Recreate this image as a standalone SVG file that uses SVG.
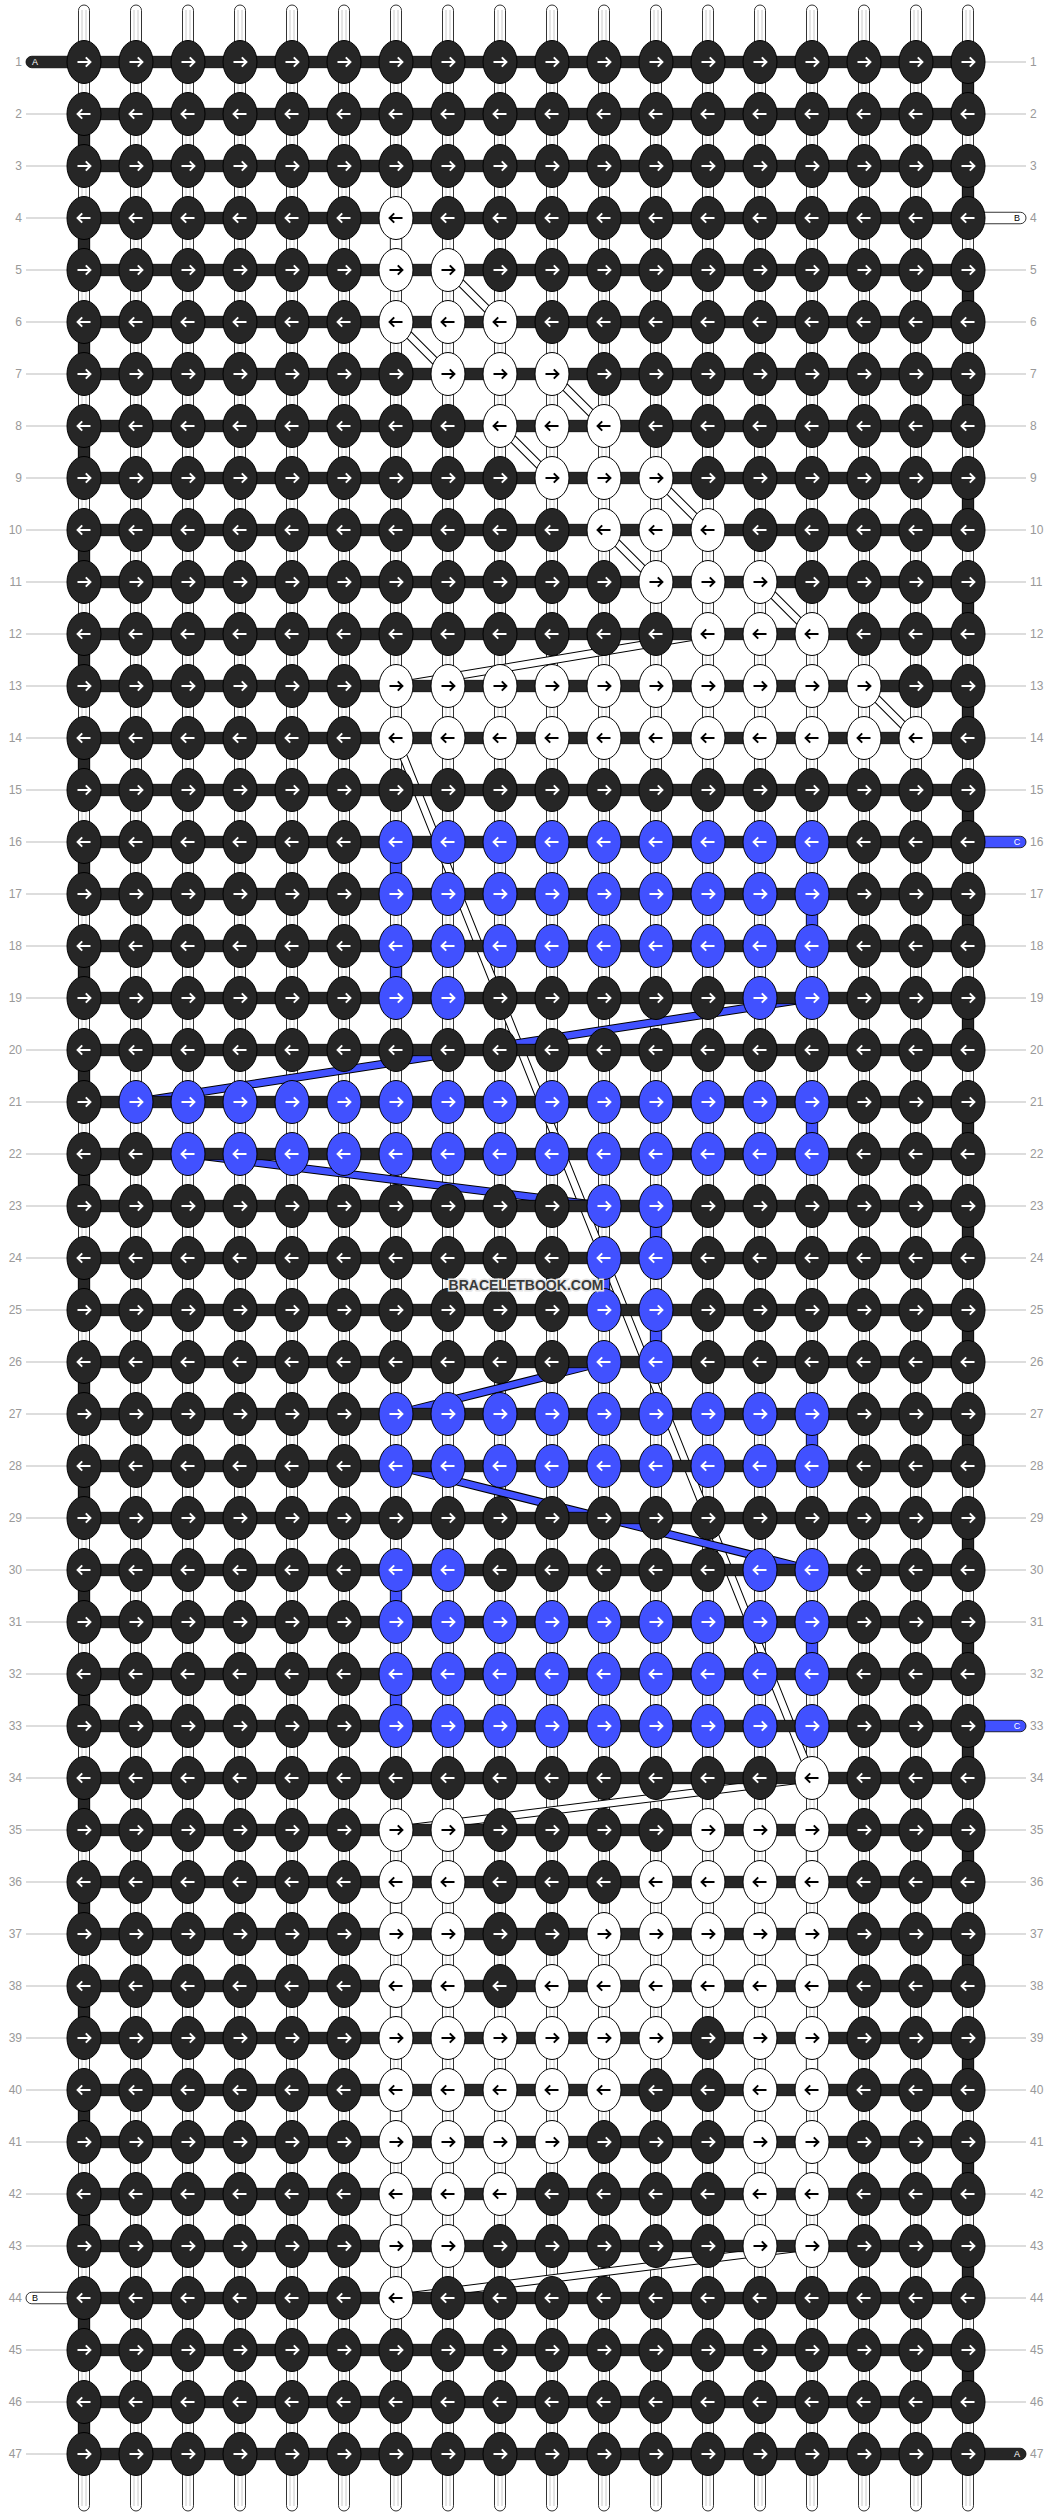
<svg xmlns="http://www.w3.org/2000/svg" xmlns:xlink="http://www.w3.org/1999/xlink" width="1052" height="2516" viewBox="0 0 1052 2516">
<style>
.ln{font-family:"Liberation Sans",Arial,sans-serif;font-size:12px;fill:#999;text-anchor:end}
.rn{font-family:"Liberation Sans",Arial,sans-serif;font-size:12px;fill:#999;text-anchor:start}
.gl{stroke:#bbb;stroke-width:1}
.bar{fill:#262626;stroke:#000;stroke-width:0.8}
.wh{fill:#fff;stroke:#000;stroke-width:0.8}
.bl{fill:#4151ff;stroke:#000;stroke-width:0.8}
.pt{font-family:"Liberation Sans",Arial,sans-serif;font-size:9px;text-anchor:middle}
.bo{stroke:#000;stroke-width:8.5;fill:none}
.bw{stroke:#fff;stroke-width:6.5;fill:none}
.bb{stroke:#4151ff;stroke-width:6.5;fill:none}
.wm{font-family:"Liberation Sans",Arial,sans-serif;font-weight:bold;font-size:15px;fill:#3a3a3a;stroke:#e6e6e6;stroke-width:3;paint-order:stroke}
</style>
<defs>
<g id="str"><rect x="-5.5" y="5" width="11" height="2506" rx="5.5" fill="#fff" stroke="#000" stroke-width="0.8"/><path d="M-2,10V2506M2,10V2506" stroke="#bdbdbd" stroke-width="0.8"/></g>
<rect id="bar" class="bar" x="84" y="-5.75" width="884" height="11.5"/>
<rect id="vd" class="bar" x="-5.75" y="0" width="11.5" height="52"/>
<rect id="vw" class="wh" x="-5.75" y="0" width="11.5" height="52"/>
<rect id="vb" class="bl" x="-5.75" y="0" width="11.5" height="52"/>
<path id="ar" d="M-6.5,0H6M1.8,-4.6L6.4,0L1.8,4.6" fill="none" stroke-width="2"/>
<path id="al" d="M6.5,0H-6M-1.8,-4.6L-6.4,0L-1.8,4.6" fill="none" stroke-width="2"/>
<g id="dR"><ellipse rx="17" ry="21.5" fill="#262626" stroke="#000"/><use href="#ar" stroke="#fff"/></g>
<g id="dL"><ellipse rx="17" ry="21.5" fill="#262626" stroke="#000"/><use href="#al" stroke="#fff"/></g>
<g id="wR"><ellipse rx="17" ry="21.5" fill="#fff" stroke="#000"/><use href="#ar" stroke="#000"/></g>
<g id="wL"><ellipse rx="17" ry="21.5" fill="#fff" stroke="#000"/><use href="#al" stroke="#000"/></g>
<g id="bR"><ellipse rx="17" ry="21.5" fill="#4151ff" stroke="#000"/><use href="#ar" stroke="#fff"/></g>
<g id="bL"><ellipse rx="17" ry="21.5" fill="#4151ff" stroke="#000"/><use href="#al" stroke="#fff"/></g>
</defs>
<rect width="1052" height="2516" fill="#fff"/>
<g id="labels">
<path class="gl" d="M26,114H67M26,166H67M26,218H67M26,270H67M26,322H67M26,374H67M26,426H67M26,478H67M26,530H67M26,582H67M26,634H67M26,686H67M26,738H67M26,790H67M26,842H67M26,894H67M26,946H67M26,998H67M26,1050H67M26,1102H67M26,1154H67M26,1206H67M26,1258H67M26,1310H67M26,1362H67M26,1414H67M26,1466H67M26,1518H67M26,1570H67M26,1622H67M26,1674H67M26,1726H67M26,1778H67M26,1830H67M26,1882H67M26,1934H67M26,1986H67M26,2038H67M26,2090H67M26,2142H67M26,2194H67M26,2246H67M26,2350H67M26,2402H67M26,2454H67"/>
<path class="gl" d="M985,62H1026M985,114H1026M985,166H1026M985,270H1026M985,322H1026M985,374H1026M985,426H1026M985,478H1026M985,530H1026M985,582H1026M985,634H1026M985,686H1026M985,738H1026M985,790H1026M985,894H1026M985,946H1026M985,998H1026M985,1050H1026M985,1102H1026M985,1154H1026M985,1206H1026M985,1258H1026M985,1310H1026M985,1362H1026M985,1414H1026M985,1466H1026M985,1518H1026M985,1570H1026M985,1622H1026M985,1674H1026M985,1778H1026M985,1830H1026M985,1882H1026M985,1934H1026M985,1986H1026M985,2038H1026M985,2090H1026M985,2142H1026M985,2194H1026M985,2246H1026M985,2298H1026M985,2350H1026M985,2402H1026"/>
<text class="ln" x="22" y="66">1</text><text class="ln" x="22" y="118">2</text><text class="ln" x="22" y="170">3</text><text class="ln" x="22" y="222">4</text><text class="ln" x="22" y="274">5</text><text class="ln" x="22" y="326">6</text><text class="ln" x="22" y="378">7</text><text class="ln" x="22" y="430">8</text><text class="ln" x="22" y="482">9</text><text class="ln" x="22" y="534">10</text><text class="ln" x="22" y="586">11</text><text class="ln" x="22" y="638">12</text><text class="ln" x="22" y="690">13</text><text class="ln" x="22" y="742">14</text><text class="ln" x="22" y="794">15</text><text class="ln" x="22" y="846">16</text><text class="ln" x="22" y="898">17</text><text class="ln" x="22" y="950">18</text><text class="ln" x="22" y="1002">19</text><text class="ln" x="22" y="1054">20</text><text class="ln" x="22" y="1106">21</text><text class="ln" x="22" y="1158">22</text><text class="ln" x="22" y="1210">23</text><text class="ln" x="22" y="1262">24</text><text class="ln" x="22" y="1314">25</text><text class="ln" x="22" y="1366">26</text><text class="ln" x="22" y="1418">27</text><text class="ln" x="22" y="1470">28</text><text class="ln" x="22" y="1522">29</text><text class="ln" x="22" y="1574">30</text><text class="ln" x="22" y="1626">31</text><text class="ln" x="22" y="1678">32</text><text class="ln" x="22" y="1730">33</text><text class="ln" x="22" y="1782">34</text><text class="ln" x="22" y="1834">35</text><text class="ln" x="22" y="1886">36</text><text class="ln" x="22" y="1938">37</text><text class="ln" x="22" y="1990">38</text><text class="ln" x="22" y="2042">39</text><text class="ln" x="22" y="2094">40</text><text class="ln" x="22" y="2146">41</text><text class="ln" x="22" y="2198">42</text><text class="ln" x="22" y="2250">43</text><text class="ln" x="22" y="2302">44</text><text class="ln" x="22" y="2354">45</text><text class="ln" x="22" y="2406">46</text><text class="ln" x="22" y="2458">47</text>
<text class="rn" x="1030" y="66">1</text><text class="rn" x="1030" y="118">2</text><text class="rn" x="1030" y="170">3</text><text class="rn" x="1030" y="222">4</text><text class="rn" x="1030" y="274">5</text><text class="rn" x="1030" y="326">6</text><text class="rn" x="1030" y="378">7</text><text class="rn" x="1030" y="430">8</text><text class="rn" x="1030" y="482">9</text><text class="rn" x="1030" y="534">10</text><text class="rn" x="1030" y="586">11</text><text class="rn" x="1030" y="638">12</text><text class="rn" x="1030" y="690">13</text><text class="rn" x="1030" y="742">14</text><text class="rn" x="1030" y="794">15</text><text class="rn" x="1030" y="846">16</text><text class="rn" x="1030" y="898">17</text><text class="rn" x="1030" y="950">18</text><text class="rn" x="1030" y="1002">19</text><text class="rn" x="1030" y="1054">20</text><text class="rn" x="1030" y="1106">21</text><text class="rn" x="1030" y="1158">22</text><text class="rn" x="1030" y="1210">23</text><text class="rn" x="1030" y="1262">24</text><text class="rn" x="1030" y="1314">25</text><text class="rn" x="1030" y="1366">26</text><text class="rn" x="1030" y="1418">27</text><text class="rn" x="1030" y="1470">28</text><text class="rn" x="1030" y="1522">29</text><text class="rn" x="1030" y="1574">30</text><text class="rn" x="1030" y="1626">31</text><text class="rn" x="1030" y="1678">32</text><text class="rn" x="1030" y="1730">33</text><text class="rn" x="1030" y="1782">34</text><text class="rn" x="1030" y="1834">35</text><text class="rn" x="1030" y="1886">36</text><text class="rn" x="1030" y="1938">37</text><text class="rn" x="1030" y="1990">38</text><text class="rn" x="1030" y="2042">39</text><text class="rn" x="1030" y="2094">40</text><text class="rn" x="1030" y="2146">41</text><text class="rn" x="1030" y="2198">42</text><text class="rn" x="1030" y="2250">43</text><text class="rn" x="1030" y="2302">44</text><text class="rn" x="1030" y="2354">45</text><text class="rn" x="1030" y="2406">46</text><text class="rn" x="1030" y="2458">47</text>
</g>
<g id="strings">
<use href="#str" x="84"/><use href="#str" x="136"/><use href="#str" x="188"/><use href="#str" x="240"/><use href="#str" x="292"/><use href="#str" x="344"/><use href="#str" x="396"/><use href="#str" x="448"/><use href="#str" x="500"/><use href="#str" x="552"/><use href="#str" x="604"/><use href="#str" x="656"/><use href="#str" x="708"/><use href="#str" x="760"/><use href="#str" x="812"/><use href="#str" x="864"/><use href="#str" x="916"/><use href="#str" x="968"/>
</g>
<g id="connectors">
<g id="bands-white">
<path class="bo" d="M448,270L500,322M396,322L448,374M552,374L604,426M500,426L552,478M656,478L708,530M604,530L656,582M760,582L812,634M708,634L396,686M864,686L916,738M396,738L812,1778M812,1778L396,1830M812,2246L396,2298"/>
<path class="bw" d="M448,270L500,322M396,322L448,374M552,374L604,426M500,426L552,478M656,478L708,530M604,530L656,582M760,582L812,634M708,634L396,686M864,686L916,738M396,738L812,1778M812,1778L396,1830M812,2246L396,2298"/>
</g>
<g id="bands-blue">
<path class="bo" d="M812,998L136,1102M188,1154L604,1206M604,1362L396,1414M396,1466L812,1570"/>
<path class="bb" d="M812,998L136,1102M188,1154L604,1206M604,1362L396,1414M396,1466L812,1570"/>
</g>
<g id="bars">
<use href="#bar" y="62"/><use href="#bar" y="114"/><use href="#bar" y="166"/><use href="#bar" y="218"/><use href="#bar" y="270"/><use href="#bar" y="322"/><use href="#bar" y="374"/><use href="#bar" y="426"/><use href="#bar" y="478"/><use href="#bar" y="530"/><use href="#bar" y="582"/><use href="#bar" y="634"/><use href="#bar" y="686"/><use href="#bar" y="738"/><use href="#bar" y="790"/><use href="#bar" y="842"/><use href="#bar" y="894"/><use href="#bar" y="946"/><use href="#bar" y="998"/><use href="#bar" y="1050"/><use href="#bar" y="1102"/><use href="#bar" y="1154"/><use href="#bar" y="1206"/><use href="#bar" y="1258"/><use href="#bar" y="1310"/><use href="#bar" y="1362"/><use href="#bar" y="1414"/><use href="#bar" y="1466"/><use href="#bar" y="1518"/><use href="#bar" y="1570"/><use href="#bar" y="1622"/><use href="#bar" y="1674"/><use href="#bar" y="1726"/><use href="#bar" y="1778"/><use href="#bar" y="1830"/><use href="#bar" y="1882"/><use href="#bar" y="1934"/><use href="#bar" y="1986"/><use href="#bar" y="2038"/><use href="#bar" y="2090"/><use href="#bar" y="2142"/><use href="#bar" y="2194"/><use href="#bar" y="2246"/><use href="#bar" y="2298"/><use href="#bar" y="2350"/><use href="#bar" y="2402"/><use href="#bar" y="2454"/>
</g>
<g id="turns-dark">
<use href="#vd" x="968" y="62"/><use href="#vd" x="968" y="166"/><use href="#vd" x="968" y="270"/><use href="#vd" x="968" y="374"/><use href="#vd" x="968" y="478"/><use href="#vd" x="968" y="582"/><use href="#vd" x="968" y="686"/><use href="#vd" x="968" y="790"/><use href="#vd" x="968" y="894"/><use href="#vd" x="968" y="998"/><use href="#vd" x="968" y="1102"/><use href="#vd" x="968" y="1206"/><use href="#vd" x="968" y="1310"/><use href="#vd" x="968" y="1414"/><use href="#vd" x="968" y="1518"/><use href="#vd" x="968" y="1622"/><use href="#vd" x="968" y="1726"/><use href="#vd" x="968" y="1830"/><use href="#vd" x="968" y="1934"/><use href="#vd" x="968" y="2038"/><use href="#vd" x="968" y="2142"/><use href="#vd" x="968" y="2246"/><use href="#vd" x="968" y="2350"/>
<use href="#vd" x="84" y="114"/><use href="#vd" x="84" y="218"/><use href="#vd" x="84" y="322"/><use href="#vd" x="84" y="426"/><use href="#vd" x="84" y="530"/><use href="#vd" x="84" y="634"/><use href="#vd" x="84" y="738"/><use href="#vd" x="84" y="842"/><use href="#vd" x="84" y="946"/><use href="#vd" x="84" y="1050"/><use href="#vd" x="84" y="1154"/><use href="#vd" x="84" y="1258"/><use href="#vd" x="84" y="1362"/><use href="#vd" x="84" y="1466"/><use href="#vd" x="84" y="1570"/><use href="#vd" x="84" y="1674"/><use href="#vd" x="84" y="1778"/><use href="#vd" x="84" y="1882"/><use href="#vd" x="84" y="1986"/><use href="#vd" x="84" y="2090"/><use href="#vd" x="84" y="2194"/><use href="#vd" x="84" y="2298"/><use href="#vd" x="84" y="2402"/>
</g>
<g id="turns-blue">
<use href="#vb" x="396" y="842"/><use href="#vb" x="812" y="894"/><use href="#vb" x="396" y="946"/><use href="#vb" x="812" y="1102"/><use href="#vb" x="656" y="1206"/><use href="#vb" x="604" y="1258"/><use href="#vb" x="656" y="1310"/><use href="#vb" x="812" y="1414"/><use href="#vb" x="396" y="1570"/><use href="#vb" x="812" y="1622"/><use href="#vb" x="396" y="1674"/>
</g>
<g id="turns-white">
<use href="#vw" x="396" y="218"/><use href="#vw" x="812" y="1830"/><use href="#vw" x="396" y="1882"/><use href="#vw" x="812" y="1934"/><use href="#vw" x="396" y="1986"/><use href="#vw" x="812" y="2038"/><use href="#vw" x="396" y="2090"/><use href="#vw" x="812" y="2142"/><use href="#vw" x="396" y="2194"/>
</g>
<g id="ends">
<rect class="bar" x="26" y="56.25" width="62" height="11.5" rx="5.75"/><text class="pt" x="35" y="65.2" fill="#fff">A</text>
<rect class="wh" x="964" y="212.25" width="62" height="11.5" rx="5.75"/><text class="pt" x="1017" y="221.2" fill="#000">B</text>
<rect class="bl" x="964" y="836.25" width="62" height="11.5" rx="5.75"/><text class="pt" x="1017" y="845.2" fill="#fff">C</text>
<rect class="bl" x="964" y="1720.25" width="62" height="11.5" rx="5.75"/><text class="pt" x="1017" y="1729.2" fill="#fff">C</text>
<rect class="wh" x="26" y="2292.25" width="62" height="11.5" rx="5.75"/><text class="pt" x="35" y="2301.2" fill="#000">B</text>
<rect class="bar" x="964" y="2448.25" width="62" height="11.5" rx="5.75"/><text class="pt" x="1017" y="2457.2" fill="#fff">A</text>
</g>
</g>
<g id="knots">
<g transform="translate(0,62)"><g id="n1-1"><use href="#dR" x="84"/></g><g id="n1-2"><use href="#dR" x="136"/></g><g id="n1-3"><use href="#dR" x="188"/></g><g id="n1-4"><use href="#dR" x="240"/></g><g id="n1-5"><use href="#dR" x="292"/></g><g id="n1-6"><use href="#dR" x="344"/></g><g id="n1-7"><use href="#dR" x="396"/></g><g id="n1-8"><use href="#dR" x="448"/></g><g id="n1-9"><use href="#dR" x="500"/></g><g id="n1-10"><use href="#dR" x="552"/></g><g id="n1-11"><use href="#dR" x="604"/></g><g id="n1-12"><use href="#dR" x="656"/></g><g id="n1-13"><use href="#dR" x="708"/></g><g id="n1-14"><use href="#dR" x="760"/></g><g id="n1-15"><use href="#dR" x="812"/></g><g id="n1-16"><use href="#dR" x="864"/></g><g id="n1-17"><use href="#dR" x="916"/></g><g id="n1-18"><use href="#dR" x="968"/></g></g>
<g transform="translate(0,114)"><g id="n2-1"><use href="#dL" x="84"/></g><g id="n2-2"><use href="#dL" x="136"/></g><g id="n2-3"><use href="#dL" x="188"/></g><g id="n2-4"><use href="#dL" x="240"/></g><g id="n2-5"><use href="#dL" x="292"/></g><g id="n2-6"><use href="#dL" x="344"/></g><g id="n2-7"><use href="#dL" x="396"/></g><g id="n2-8"><use href="#dL" x="448"/></g><g id="n2-9"><use href="#dL" x="500"/></g><g id="n2-10"><use href="#dL" x="552"/></g><g id="n2-11"><use href="#dL" x="604"/></g><g id="n2-12"><use href="#dL" x="656"/></g><g id="n2-13"><use href="#dL" x="708"/></g><g id="n2-14"><use href="#dL" x="760"/></g><g id="n2-15"><use href="#dL" x="812"/></g><g id="n2-16"><use href="#dL" x="864"/></g><g id="n2-17"><use href="#dL" x="916"/></g><g id="n2-18"><use href="#dL" x="968"/></g></g>
<g transform="translate(0,166)"><g id="n3-1"><use href="#dR" x="84"/></g><g id="n3-2"><use href="#dR" x="136"/></g><g id="n3-3"><use href="#dR" x="188"/></g><g id="n3-4"><use href="#dR" x="240"/></g><g id="n3-5"><use href="#dR" x="292"/></g><g id="n3-6"><use href="#dR" x="344"/></g><g id="n3-7"><use href="#dR" x="396"/></g><g id="n3-8"><use href="#dR" x="448"/></g><g id="n3-9"><use href="#dR" x="500"/></g><g id="n3-10"><use href="#dR" x="552"/></g><g id="n3-11"><use href="#dR" x="604"/></g><g id="n3-12"><use href="#dR" x="656"/></g><g id="n3-13"><use href="#dR" x="708"/></g><g id="n3-14"><use href="#dR" x="760"/></g><g id="n3-15"><use href="#dR" x="812"/></g><g id="n3-16"><use href="#dR" x="864"/></g><g id="n3-17"><use href="#dR" x="916"/></g><g id="n3-18"><use href="#dR" x="968"/></g></g>
<g transform="translate(0,218)"><g id="n4-1"><use href="#dL" x="84"/></g><g id="n4-2"><use href="#dL" x="136"/></g><g id="n4-3"><use href="#dL" x="188"/></g><g id="n4-4"><use href="#dL" x="240"/></g><g id="n4-5"><use href="#dL" x="292"/></g><g id="n4-6"><use href="#dL" x="344"/></g><g id="n4-7"><use href="#wL" x="396"/></g><g id="n4-8"><use href="#dL" x="448"/></g><g id="n4-9"><use href="#dL" x="500"/></g><g id="n4-10"><use href="#dL" x="552"/></g><g id="n4-11"><use href="#dL" x="604"/></g><g id="n4-12"><use href="#dL" x="656"/></g><g id="n4-13"><use href="#dL" x="708"/></g><g id="n4-14"><use href="#dL" x="760"/></g><g id="n4-15"><use href="#dL" x="812"/></g><g id="n4-16"><use href="#dL" x="864"/></g><g id="n4-17"><use href="#dL" x="916"/></g><g id="n4-18"><use href="#dL" x="968"/></g></g>
<g transform="translate(0,270)"><g id="n5-1"><use href="#dR" x="84"/></g><g id="n5-2"><use href="#dR" x="136"/></g><g id="n5-3"><use href="#dR" x="188"/></g><g id="n5-4"><use href="#dR" x="240"/></g><g id="n5-5"><use href="#dR" x="292"/></g><g id="n5-6"><use href="#dR" x="344"/></g><g id="n5-7"><use href="#wR" x="396"/></g><g id="n5-8"><use href="#wR" x="448"/></g><g id="n5-9"><use href="#dR" x="500"/></g><g id="n5-10"><use href="#dR" x="552"/></g><g id="n5-11"><use href="#dR" x="604"/></g><g id="n5-12"><use href="#dR" x="656"/></g><g id="n5-13"><use href="#dR" x="708"/></g><g id="n5-14"><use href="#dR" x="760"/></g><g id="n5-15"><use href="#dR" x="812"/></g><g id="n5-16"><use href="#dR" x="864"/></g><g id="n5-17"><use href="#dR" x="916"/></g><g id="n5-18"><use href="#dR" x="968"/></g></g>
<g transform="translate(0,322)"><g id="n6-1"><use href="#dL" x="84"/></g><g id="n6-2"><use href="#dL" x="136"/></g><g id="n6-3"><use href="#dL" x="188"/></g><g id="n6-4"><use href="#dL" x="240"/></g><g id="n6-5"><use href="#dL" x="292"/></g><g id="n6-6"><use href="#dL" x="344"/></g><g id="n6-7"><use href="#wL" x="396"/></g><g id="n6-8"><use href="#wL" x="448"/></g><g id="n6-9"><use href="#wL" x="500"/></g><g id="n6-10"><use href="#dL" x="552"/></g><g id="n6-11"><use href="#dL" x="604"/></g><g id="n6-12"><use href="#dL" x="656"/></g><g id="n6-13"><use href="#dL" x="708"/></g><g id="n6-14"><use href="#dL" x="760"/></g><g id="n6-15"><use href="#dL" x="812"/></g><g id="n6-16"><use href="#dL" x="864"/></g><g id="n6-17"><use href="#dL" x="916"/></g><g id="n6-18"><use href="#dL" x="968"/></g></g>
<g transform="translate(0,374)"><g id="n7-1"><use href="#dR" x="84"/></g><g id="n7-2"><use href="#dR" x="136"/></g><g id="n7-3"><use href="#dR" x="188"/></g><g id="n7-4"><use href="#dR" x="240"/></g><g id="n7-5"><use href="#dR" x="292"/></g><g id="n7-6"><use href="#dR" x="344"/></g><g id="n7-7"><use href="#dR" x="396"/></g><g id="n7-8"><use href="#wR" x="448"/></g><g id="n7-9"><use href="#wR" x="500"/></g><g id="n7-10"><use href="#wR" x="552"/></g><g id="n7-11"><use href="#dR" x="604"/></g><g id="n7-12"><use href="#dR" x="656"/></g><g id="n7-13"><use href="#dR" x="708"/></g><g id="n7-14"><use href="#dR" x="760"/></g><g id="n7-15"><use href="#dR" x="812"/></g><g id="n7-16"><use href="#dR" x="864"/></g><g id="n7-17"><use href="#dR" x="916"/></g><g id="n7-18"><use href="#dR" x="968"/></g></g>
<g transform="translate(0,426)"><g id="n8-1"><use href="#dL" x="84"/></g><g id="n8-2"><use href="#dL" x="136"/></g><g id="n8-3"><use href="#dL" x="188"/></g><g id="n8-4"><use href="#dL" x="240"/></g><g id="n8-5"><use href="#dL" x="292"/></g><g id="n8-6"><use href="#dL" x="344"/></g><g id="n8-7"><use href="#dL" x="396"/></g><g id="n8-8"><use href="#dL" x="448"/></g><g id="n8-9"><use href="#wL" x="500"/></g><g id="n8-10"><use href="#wL" x="552"/></g><g id="n8-11"><use href="#wL" x="604"/></g><g id="n8-12"><use href="#dL" x="656"/></g><g id="n8-13"><use href="#dL" x="708"/></g><g id="n8-14"><use href="#dL" x="760"/></g><g id="n8-15"><use href="#dL" x="812"/></g><g id="n8-16"><use href="#dL" x="864"/></g><g id="n8-17"><use href="#dL" x="916"/></g><g id="n8-18"><use href="#dL" x="968"/></g></g>
<g transform="translate(0,478)"><g id="n9-1"><use href="#dR" x="84"/></g><g id="n9-2"><use href="#dR" x="136"/></g><g id="n9-3"><use href="#dR" x="188"/></g><g id="n9-4"><use href="#dR" x="240"/></g><g id="n9-5"><use href="#dR" x="292"/></g><g id="n9-6"><use href="#dR" x="344"/></g><g id="n9-7"><use href="#dR" x="396"/></g><g id="n9-8"><use href="#dR" x="448"/></g><g id="n9-9"><use href="#dR" x="500"/></g><g id="n9-10"><use href="#wR" x="552"/></g><g id="n9-11"><use href="#wR" x="604"/></g><g id="n9-12"><use href="#wR" x="656"/></g><g id="n9-13"><use href="#dR" x="708"/></g><g id="n9-14"><use href="#dR" x="760"/></g><g id="n9-15"><use href="#dR" x="812"/></g><g id="n9-16"><use href="#dR" x="864"/></g><g id="n9-17"><use href="#dR" x="916"/></g><g id="n9-18"><use href="#dR" x="968"/></g></g>
<g transform="translate(0,530)"><g id="n10-1"><use href="#dL" x="84"/></g><g id="n10-2"><use href="#dL" x="136"/></g><g id="n10-3"><use href="#dL" x="188"/></g><g id="n10-4"><use href="#dL" x="240"/></g><g id="n10-5"><use href="#dL" x="292"/></g><g id="n10-6"><use href="#dL" x="344"/></g><g id="n10-7"><use href="#dL" x="396"/></g><g id="n10-8"><use href="#dL" x="448"/></g><g id="n10-9"><use href="#dL" x="500"/></g><g id="n10-10"><use href="#dL" x="552"/></g><g id="n10-11"><use href="#wL" x="604"/></g><g id="n10-12"><use href="#wL" x="656"/></g><g id="n10-13"><use href="#wL" x="708"/></g><g id="n10-14"><use href="#dL" x="760"/></g><g id="n10-15"><use href="#dL" x="812"/></g><g id="n10-16"><use href="#dL" x="864"/></g><g id="n10-17"><use href="#dL" x="916"/></g><g id="n10-18"><use href="#dL" x="968"/></g></g>
<g transform="translate(0,582)"><g id="n11-1"><use href="#dR" x="84"/></g><g id="n11-2"><use href="#dR" x="136"/></g><g id="n11-3"><use href="#dR" x="188"/></g><g id="n11-4"><use href="#dR" x="240"/></g><g id="n11-5"><use href="#dR" x="292"/></g><g id="n11-6"><use href="#dR" x="344"/></g><g id="n11-7"><use href="#dR" x="396"/></g><g id="n11-8"><use href="#dR" x="448"/></g><g id="n11-9"><use href="#dR" x="500"/></g><g id="n11-10"><use href="#dR" x="552"/></g><g id="n11-11"><use href="#dR" x="604"/></g><g id="n11-12"><use href="#wR" x="656"/></g><g id="n11-13"><use href="#wR" x="708"/></g><g id="n11-14"><use href="#wR" x="760"/></g><g id="n11-15"><use href="#dR" x="812"/></g><g id="n11-16"><use href="#dR" x="864"/></g><g id="n11-17"><use href="#dR" x="916"/></g><g id="n11-18"><use href="#dR" x="968"/></g></g>
<g transform="translate(0,634)"><g id="n12-1"><use href="#dL" x="84"/></g><g id="n12-2"><use href="#dL" x="136"/></g><g id="n12-3"><use href="#dL" x="188"/></g><g id="n12-4"><use href="#dL" x="240"/></g><g id="n12-5"><use href="#dL" x="292"/></g><g id="n12-6"><use href="#dL" x="344"/></g><g id="n12-7"><use href="#dL" x="396"/></g><g id="n12-8"><use href="#dL" x="448"/></g><g id="n12-9"><use href="#dL" x="500"/></g><g id="n12-10"><use href="#dL" x="552"/></g><g id="n12-11"><use href="#dL" x="604"/></g><g id="n12-12"><use href="#dL" x="656"/></g><g id="n12-13"><use href="#wL" x="708"/></g><g id="n12-14"><use href="#wL" x="760"/></g><g id="n12-15"><use href="#wL" x="812"/></g><g id="n12-16"><use href="#dL" x="864"/></g><g id="n12-17"><use href="#dL" x="916"/></g><g id="n12-18"><use href="#dL" x="968"/></g></g>
<g transform="translate(0,686)"><g id="n13-1"><use href="#dR" x="84"/></g><g id="n13-2"><use href="#dR" x="136"/></g><g id="n13-3"><use href="#dR" x="188"/></g><g id="n13-4"><use href="#dR" x="240"/></g><g id="n13-5"><use href="#dR" x="292"/></g><g id="n13-6"><use href="#dR" x="344"/></g><g id="n13-7"><use href="#wR" x="396"/></g><g id="n13-8"><use href="#wR" x="448"/></g><g id="n13-9"><use href="#wR" x="500"/></g><g id="n13-10"><use href="#wR" x="552"/></g><g id="n13-11"><use href="#wR" x="604"/></g><g id="n13-12"><use href="#wR" x="656"/></g><g id="n13-13"><use href="#wR" x="708"/></g><g id="n13-14"><use href="#wR" x="760"/></g><g id="n13-15"><use href="#wR" x="812"/></g><g id="n13-16"><use href="#wR" x="864"/></g><g id="n13-17"><use href="#dR" x="916"/></g><g id="n13-18"><use href="#dR" x="968"/></g></g>
<g transform="translate(0,738)"><g id="n14-1"><use href="#dL" x="84"/></g><g id="n14-2"><use href="#dL" x="136"/></g><g id="n14-3"><use href="#dL" x="188"/></g><g id="n14-4"><use href="#dL" x="240"/></g><g id="n14-5"><use href="#dL" x="292"/></g><g id="n14-6"><use href="#dL" x="344"/></g><g id="n14-7"><use href="#wL" x="396"/></g><g id="n14-8"><use href="#wL" x="448"/></g><g id="n14-9"><use href="#wL" x="500"/></g><g id="n14-10"><use href="#wL" x="552"/></g><g id="n14-11"><use href="#wL" x="604"/></g><g id="n14-12"><use href="#wL" x="656"/></g><g id="n14-13"><use href="#wL" x="708"/></g><g id="n14-14"><use href="#wL" x="760"/></g><g id="n14-15"><use href="#wL" x="812"/></g><g id="n14-16"><use href="#wL" x="864"/></g><g id="n14-17"><use href="#wL" x="916"/></g><g id="n14-18"><use href="#dL" x="968"/></g></g>
<g transform="translate(0,790)"><g id="n15-1"><use href="#dR" x="84"/></g><g id="n15-2"><use href="#dR" x="136"/></g><g id="n15-3"><use href="#dR" x="188"/></g><g id="n15-4"><use href="#dR" x="240"/></g><g id="n15-5"><use href="#dR" x="292"/></g><g id="n15-6"><use href="#dR" x="344"/></g><g id="n15-7"><use href="#dR" x="396"/></g><g id="n15-8"><use href="#dR" x="448"/></g><g id="n15-9"><use href="#dR" x="500"/></g><g id="n15-10"><use href="#dR" x="552"/></g><g id="n15-11"><use href="#dR" x="604"/></g><g id="n15-12"><use href="#dR" x="656"/></g><g id="n15-13"><use href="#dR" x="708"/></g><g id="n15-14"><use href="#dR" x="760"/></g><g id="n15-15"><use href="#dR" x="812"/></g><g id="n15-16"><use href="#dR" x="864"/></g><g id="n15-17"><use href="#dR" x="916"/></g><g id="n15-18"><use href="#dR" x="968"/></g></g>
<g transform="translate(0,842)"><g id="n16-1"><use href="#dL" x="84"/></g><g id="n16-2"><use href="#dL" x="136"/></g><g id="n16-3"><use href="#dL" x="188"/></g><g id="n16-4"><use href="#dL" x="240"/></g><g id="n16-5"><use href="#dL" x="292"/></g><g id="n16-6"><use href="#dL" x="344"/></g><g id="n16-7"><use href="#bL" x="396"/></g><g id="n16-8"><use href="#bL" x="448"/></g><g id="n16-9"><use href="#bL" x="500"/></g><g id="n16-10"><use href="#bL" x="552"/></g><g id="n16-11"><use href="#bL" x="604"/></g><g id="n16-12"><use href="#bL" x="656"/></g><g id="n16-13"><use href="#bL" x="708"/></g><g id="n16-14"><use href="#bL" x="760"/></g><g id="n16-15"><use href="#bL" x="812"/></g><g id="n16-16"><use href="#dL" x="864"/></g><g id="n16-17"><use href="#dL" x="916"/></g><g id="n16-18"><use href="#dL" x="968"/></g></g>
<g transform="translate(0,894)"><g id="n17-1"><use href="#dR" x="84"/></g><g id="n17-2"><use href="#dR" x="136"/></g><g id="n17-3"><use href="#dR" x="188"/></g><g id="n17-4"><use href="#dR" x="240"/></g><g id="n17-5"><use href="#dR" x="292"/></g><g id="n17-6"><use href="#dR" x="344"/></g><g id="n17-7"><use href="#bR" x="396"/></g><g id="n17-8"><use href="#bR" x="448"/></g><g id="n17-9"><use href="#bR" x="500"/></g><g id="n17-10"><use href="#bR" x="552"/></g><g id="n17-11"><use href="#bR" x="604"/></g><g id="n17-12"><use href="#bR" x="656"/></g><g id="n17-13"><use href="#bR" x="708"/></g><g id="n17-14"><use href="#bR" x="760"/></g><g id="n17-15"><use href="#bR" x="812"/></g><g id="n17-16"><use href="#dR" x="864"/></g><g id="n17-17"><use href="#dR" x="916"/></g><g id="n17-18"><use href="#dR" x="968"/></g></g>
<g transform="translate(0,946)"><g id="n18-1"><use href="#dL" x="84"/></g><g id="n18-2"><use href="#dL" x="136"/></g><g id="n18-3"><use href="#dL" x="188"/></g><g id="n18-4"><use href="#dL" x="240"/></g><g id="n18-5"><use href="#dL" x="292"/></g><g id="n18-6"><use href="#dL" x="344"/></g><g id="n18-7"><use href="#bL" x="396"/></g><g id="n18-8"><use href="#bL" x="448"/></g><g id="n18-9"><use href="#bL" x="500"/></g><g id="n18-10"><use href="#bL" x="552"/></g><g id="n18-11"><use href="#bL" x="604"/></g><g id="n18-12"><use href="#bL" x="656"/></g><g id="n18-13"><use href="#bL" x="708"/></g><g id="n18-14"><use href="#bL" x="760"/></g><g id="n18-15"><use href="#bL" x="812"/></g><g id="n18-16"><use href="#dL" x="864"/></g><g id="n18-17"><use href="#dL" x="916"/></g><g id="n18-18"><use href="#dL" x="968"/></g></g>
<g transform="translate(0,998)"><g id="n19-1"><use href="#dR" x="84"/></g><g id="n19-2"><use href="#dR" x="136"/></g><g id="n19-3"><use href="#dR" x="188"/></g><g id="n19-4"><use href="#dR" x="240"/></g><g id="n19-5"><use href="#dR" x="292"/></g><g id="n19-6"><use href="#dR" x="344"/></g><g id="n19-7"><use href="#bR" x="396"/></g><g id="n19-8"><use href="#bR" x="448"/></g><g id="n19-9"><use href="#dR" x="500"/></g><g id="n19-10"><use href="#dR" x="552"/></g><g id="n19-11"><use href="#dR" x="604"/></g><g id="n19-12"><use href="#dR" x="656"/></g><g id="n19-13"><use href="#dR" x="708"/></g><g id="n19-14"><use href="#bR" x="760"/></g><g id="n19-15"><use href="#bR" x="812"/></g><g id="n19-16"><use href="#dR" x="864"/></g><g id="n19-17"><use href="#dR" x="916"/></g><g id="n19-18"><use href="#dR" x="968"/></g></g>
<g transform="translate(0,1050)"><g id="n20-1"><use href="#dL" x="84"/></g><g id="n20-2"><use href="#dL" x="136"/></g><g id="n20-3"><use href="#dL" x="188"/></g><g id="n20-4"><use href="#dL" x="240"/></g><g id="n20-5"><use href="#dL" x="292"/></g><g id="n20-6"><use href="#dL" x="344"/></g><g id="n20-7"><use href="#dL" x="396"/></g><g id="n20-8"><use href="#dL" x="448"/></g><g id="n20-9"><use href="#dL" x="500"/></g><g id="n20-10"><use href="#dL" x="552"/></g><g id="n20-11"><use href="#dL" x="604"/></g><g id="n20-12"><use href="#dL" x="656"/></g><g id="n20-13"><use href="#dL" x="708"/></g><g id="n20-14"><use href="#dL" x="760"/></g><g id="n20-15"><use href="#dL" x="812"/></g><g id="n20-16"><use href="#dL" x="864"/></g><g id="n20-17"><use href="#dL" x="916"/></g><g id="n20-18"><use href="#dL" x="968"/></g></g>
<g transform="translate(0,1102)"><g id="n21-1"><use href="#dR" x="84"/></g><g id="n21-2"><use href="#bR" x="136"/></g><g id="n21-3"><use href="#bR" x="188"/></g><g id="n21-4"><use href="#bR" x="240"/></g><g id="n21-5"><use href="#bR" x="292"/></g><g id="n21-6"><use href="#bR" x="344"/></g><g id="n21-7"><use href="#bR" x="396"/></g><g id="n21-8"><use href="#bR" x="448"/></g><g id="n21-9"><use href="#bR" x="500"/></g><g id="n21-10"><use href="#bR" x="552"/></g><g id="n21-11"><use href="#bR" x="604"/></g><g id="n21-12"><use href="#bR" x="656"/></g><g id="n21-13"><use href="#bR" x="708"/></g><g id="n21-14"><use href="#bR" x="760"/></g><g id="n21-15"><use href="#bR" x="812"/></g><g id="n21-16"><use href="#dR" x="864"/></g><g id="n21-17"><use href="#dR" x="916"/></g><g id="n21-18"><use href="#dR" x="968"/></g></g>
<g transform="translate(0,1154)"><g id="n22-1"><use href="#dL" x="84"/></g><g id="n22-2"><use href="#dL" x="136"/></g><g id="n22-3"><use href="#bL" x="188"/></g><g id="n22-4"><use href="#bL" x="240"/></g><g id="n22-5"><use href="#bL" x="292"/></g><g id="n22-6"><use href="#bL" x="344"/></g><g id="n22-7"><use href="#bL" x="396"/></g><g id="n22-8"><use href="#bL" x="448"/></g><g id="n22-9"><use href="#bL" x="500"/></g><g id="n22-10"><use href="#bL" x="552"/></g><g id="n22-11"><use href="#bL" x="604"/></g><g id="n22-12"><use href="#bL" x="656"/></g><g id="n22-13"><use href="#bL" x="708"/></g><g id="n22-14"><use href="#bL" x="760"/></g><g id="n22-15"><use href="#bL" x="812"/></g><g id="n22-16"><use href="#dL" x="864"/></g><g id="n22-17"><use href="#dL" x="916"/></g><g id="n22-18"><use href="#dL" x="968"/></g></g>
<g transform="translate(0,1206)"><g id="n23-1"><use href="#dR" x="84"/></g><g id="n23-2"><use href="#dR" x="136"/></g><g id="n23-3"><use href="#dR" x="188"/></g><g id="n23-4"><use href="#dR" x="240"/></g><g id="n23-5"><use href="#dR" x="292"/></g><g id="n23-6"><use href="#dR" x="344"/></g><g id="n23-7"><use href="#dR" x="396"/></g><g id="n23-8"><use href="#dR" x="448"/></g><g id="n23-9"><use href="#dR" x="500"/></g><g id="n23-10"><use href="#dR" x="552"/></g><g id="n23-11"><use href="#bR" x="604"/></g><g id="n23-12"><use href="#bR" x="656"/></g><g id="n23-13"><use href="#dR" x="708"/></g><g id="n23-14"><use href="#dR" x="760"/></g><g id="n23-15"><use href="#dR" x="812"/></g><g id="n23-16"><use href="#dR" x="864"/></g><g id="n23-17"><use href="#dR" x="916"/></g><g id="n23-18"><use href="#dR" x="968"/></g></g>
<g transform="translate(0,1258)"><g id="n24-1"><use href="#dL" x="84"/></g><g id="n24-2"><use href="#dL" x="136"/></g><g id="n24-3"><use href="#dL" x="188"/></g><g id="n24-4"><use href="#dL" x="240"/></g><g id="n24-5"><use href="#dL" x="292"/></g><g id="n24-6"><use href="#dL" x="344"/></g><g id="n24-7"><use href="#dL" x="396"/></g><g id="n24-8"><use href="#dL" x="448"/></g><g id="n24-9"><use href="#dL" x="500"/></g><g id="n24-10"><use href="#dL" x="552"/></g><g id="n24-11"><use href="#bL" x="604"/></g><g id="n24-12"><use href="#bL" x="656"/></g><g id="n24-13"><use href="#dL" x="708"/></g><g id="n24-14"><use href="#dL" x="760"/></g><g id="n24-15"><use href="#dL" x="812"/></g><g id="n24-16"><use href="#dL" x="864"/></g><g id="n24-17"><use href="#dL" x="916"/></g><g id="n24-18"><use href="#dL" x="968"/></g></g>
<g transform="translate(0,1310)"><g id="n25-1"><use href="#dR" x="84"/></g><g id="n25-2"><use href="#dR" x="136"/></g><g id="n25-3"><use href="#dR" x="188"/></g><g id="n25-4"><use href="#dR" x="240"/></g><g id="n25-5"><use href="#dR" x="292"/></g><g id="n25-6"><use href="#dR" x="344"/></g><g id="n25-7"><use href="#dR" x="396"/></g><g id="n25-8"><use href="#dR" x="448"/></g><g id="n25-9"><use href="#dR" x="500"/></g><g id="n25-10"><use href="#dR" x="552"/></g><g id="n25-11"><use href="#bR" x="604"/></g><g id="n25-12"><use href="#bR" x="656"/></g><g id="n25-13"><use href="#dR" x="708"/></g><g id="n25-14"><use href="#dR" x="760"/></g><g id="n25-15"><use href="#dR" x="812"/></g><g id="n25-16"><use href="#dR" x="864"/></g><g id="n25-17"><use href="#dR" x="916"/></g><g id="n25-18"><use href="#dR" x="968"/></g></g>
<g transform="translate(0,1362)"><g id="n26-1"><use href="#dL" x="84"/></g><g id="n26-2"><use href="#dL" x="136"/></g><g id="n26-3"><use href="#dL" x="188"/></g><g id="n26-4"><use href="#dL" x="240"/></g><g id="n26-5"><use href="#dL" x="292"/></g><g id="n26-6"><use href="#dL" x="344"/></g><g id="n26-7"><use href="#dL" x="396"/></g><g id="n26-8"><use href="#dL" x="448"/></g><g id="n26-9"><use href="#dL" x="500"/></g><g id="n26-10"><use href="#dL" x="552"/></g><g id="n26-11"><use href="#bL" x="604"/></g><g id="n26-12"><use href="#bL" x="656"/></g><g id="n26-13"><use href="#dL" x="708"/></g><g id="n26-14"><use href="#dL" x="760"/></g><g id="n26-15"><use href="#dL" x="812"/></g><g id="n26-16"><use href="#dL" x="864"/></g><g id="n26-17"><use href="#dL" x="916"/></g><g id="n26-18"><use href="#dL" x="968"/></g></g>
<g transform="translate(0,1414)"><g id="n27-1"><use href="#dR" x="84"/></g><g id="n27-2"><use href="#dR" x="136"/></g><g id="n27-3"><use href="#dR" x="188"/></g><g id="n27-4"><use href="#dR" x="240"/></g><g id="n27-5"><use href="#dR" x="292"/></g><g id="n27-6"><use href="#dR" x="344"/></g><g id="n27-7"><use href="#bR" x="396"/></g><g id="n27-8"><use href="#bR" x="448"/></g><g id="n27-9"><use href="#bR" x="500"/></g><g id="n27-10"><use href="#bR" x="552"/></g><g id="n27-11"><use href="#bR" x="604"/></g><g id="n27-12"><use href="#bR" x="656"/></g><g id="n27-13"><use href="#bR" x="708"/></g><g id="n27-14"><use href="#bR" x="760"/></g><g id="n27-15"><use href="#bR" x="812"/></g><g id="n27-16"><use href="#dR" x="864"/></g><g id="n27-17"><use href="#dR" x="916"/></g><g id="n27-18"><use href="#dR" x="968"/></g></g>
<g transform="translate(0,1466)"><g id="n28-1"><use href="#dL" x="84"/></g><g id="n28-2"><use href="#dL" x="136"/></g><g id="n28-3"><use href="#dL" x="188"/></g><g id="n28-4"><use href="#dL" x="240"/></g><g id="n28-5"><use href="#dL" x="292"/></g><g id="n28-6"><use href="#dL" x="344"/></g><g id="n28-7"><use href="#bL" x="396"/></g><g id="n28-8"><use href="#bL" x="448"/></g><g id="n28-9"><use href="#bL" x="500"/></g><g id="n28-10"><use href="#bL" x="552"/></g><g id="n28-11"><use href="#bL" x="604"/></g><g id="n28-12"><use href="#bL" x="656"/></g><g id="n28-13"><use href="#bL" x="708"/></g><g id="n28-14"><use href="#bL" x="760"/></g><g id="n28-15"><use href="#bL" x="812"/></g><g id="n28-16"><use href="#dL" x="864"/></g><g id="n28-17"><use href="#dL" x="916"/></g><g id="n28-18"><use href="#dL" x="968"/></g></g>
<g transform="translate(0,1518)"><g id="n29-1"><use href="#dR" x="84"/></g><g id="n29-2"><use href="#dR" x="136"/></g><g id="n29-3"><use href="#dR" x="188"/></g><g id="n29-4"><use href="#dR" x="240"/></g><g id="n29-5"><use href="#dR" x="292"/></g><g id="n29-6"><use href="#dR" x="344"/></g><g id="n29-7"><use href="#dR" x="396"/></g><g id="n29-8"><use href="#dR" x="448"/></g><g id="n29-9"><use href="#dR" x="500"/></g><g id="n29-10"><use href="#dR" x="552"/></g><g id="n29-11"><use href="#dR" x="604"/></g><g id="n29-12"><use href="#dR" x="656"/></g><g id="n29-13"><use href="#dR" x="708"/></g><g id="n29-14"><use href="#dR" x="760"/></g><g id="n29-15"><use href="#dR" x="812"/></g><g id="n29-16"><use href="#dR" x="864"/></g><g id="n29-17"><use href="#dR" x="916"/></g><g id="n29-18"><use href="#dR" x="968"/></g></g>
<g transform="translate(0,1570)"><g id="n30-1"><use href="#dL" x="84"/></g><g id="n30-2"><use href="#dL" x="136"/></g><g id="n30-3"><use href="#dL" x="188"/></g><g id="n30-4"><use href="#dL" x="240"/></g><g id="n30-5"><use href="#dL" x="292"/></g><g id="n30-6"><use href="#dL" x="344"/></g><g id="n30-7"><use href="#bL" x="396"/></g><g id="n30-8"><use href="#bL" x="448"/></g><g id="n30-9"><use href="#dL" x="500"/></g><g id="n30-10"><use href="#dL" x="552"/></g><g id="n30-11"><use href="#dL" x="604"/></g><g id="n30-12"><use href="#dL" x="656"/></g><g id="n30-13"><use href="#dL" x="708"/></g><g id="n30-14"><use href="#bL" x="760"/></g><g id="n30-15"><use href="#bL" x="812"/></g><g id="n30-16"><use href="#dL" x="864"/></g><g id="n30-17"><use href="#dL" x="916"/></g><g id="n30-18"><use href="#dL" x="968"/></g></g>
<g transform="translate(0,1622)"><g id="n31-1"><use href="#dR" x="84"/></g><g id="n31-2"><use href="#dR" x="136"/></g><g id="n31-3"><use href="#dR" x="188"/></g><g id="n31-4"><use href="#dR" x="240"/></g><g id="n31-5"><use href="#dR" x="292"/></g><g id="n31-6"><use href="#dR" x="344"/></g><g id="n31-7"><use href="#bR" x="396"/></g><g id="n31-8"><use href="#bR" x="448"/></g><g id="n31-9"><use href="#bR" x="500"/></g><g id="n31-10"><use href="#bR" x="552"/></g><g id="n31-11"><use href="#bR" x="604"/></g><g id="n31-12"><use href="#bR" x="656"/></g><g id="n31-13"><use href="#bR" x="708"/></g><g id="n31-14"><use href="#bR" x="760"/></g><g id="n31-15"><use href="#bR" x="812"/></g><g id="n31-16"><use href="#dR" x="864"/></g><g id="n31-17"><use href="#dR" x="916"/></g><g id="n31-18"><use href="#dR" x="968"/></g></g>
<g transform="translate(0,1674)"><g id="n32-1"><use href="#dL" x="84"/></g><g id="n32-2"><use href="#dL" x="136"/></g><g id="n32-3"><use href="#dL" x="188"/></g><g id="n32-4"><use href="#dL" x="240"/></g><g id="n32-5"><use href="#dL" x="292"/></g><g id="n32-6"><use href="#dL" x="344"/></g><g id="n32-7"><use href="#bL" x="396"/></g><g id="n32-8"><use href="#bL" x="448"/></g><g id="n32-9"><use href="#bL" x="500"/></g><g id="n32-10"><use href="#bL" x="552"/></g><g id="n32-11"><use href="#bL" x="604"/></g><g id="n32-12"><use href="#bL" x="656"/></g><g id="n32-13"><use href="#bL" x="708"/></g><g id="n32-14"><use href="#bL" x="760"/></g><g id="n32-15"><use href="#bL" x="812"/></g><g id="n32-16"><use href="#dL" x="864"/></g><g id="n32-17"><use href="#dL" x="916"/></g><g id="n32-18"><use href="#dL" x="968"/></g></g>
<g transform="translate(0,1726)"><g id="n33-1"><use href="#dR" x="84"/></g><g id="n33-2"><use href="#dR" x="136"/></g><g id="n33-3"><use href="#dR" x="188"/></g><g id="n33-4"><use href="#dR" x="240"/></g><g id="n33-5"><use href="#dR" x="292"/></g><g id="n33-6"><use href="#dR" x="344"/></g><g id="n33-7"><use href="#bR" x="396"/></g><g id="n33-8"><use href="#bR" x="448"/></g><g id="n33-9"><use href="#bR" x="500"/></g><g id="n33-10"><use href="#bR" x="552"/></g><g id="n33-11"><use href="#bR" x="604"/></g><g id="n33-12"><use href="#bR" x="656"/></g><g id="n33-13"><use href="#bR" x="708"/></g><g id="n33-14"><use href="#bR" x="760"/></g><g id="n33-15"><use href="#bR" x="812"/></g><g id="n33-16"><use href="#dR" x="864"/></g><g id="n33-17"><use href="#dR" x="916"/></g><g id="n33-18"><use href="#dR" x="968"/></g></g>
<g transform="translate(0,1778)"><g id="n34-1"><use href="#dL" x="84"/></g><g id="n34-2"><use href="#dL" x="136"/></g><g id="n34-3"><use href="#dL" x="188"/></g><g id="n34-4"><use href="#dL" x="240"/></g><g id="n34-5"><use href="#dL" x="292"/></g><g id="n34-6"><use href="#dL" x="344"/></g><g id="n34-7"><use href="#dL" x="396"/></g><g id="n34-8"><use href="#dL" x="448"/></g><g id="n34-9"><use href="#dL" x="500"/></g><g id="n34-10"><use href="#dL" x="552"/></g><g id="n34-11"><use href="#dL" x="604"/></g><g id="n34-12"><use href="#dL" x="656"/></g><g id="n34-13"><use href="#dL" x="708"/></g><g id="n34-14"><use href="#dL" x="760"/></g><g id="n34-15"><use href="#wL" x="812"/></g><g id="n34-16"><use href="#dL" x="864"/></g><g id="n34-17"><use href="#dL" x="916"/></g><g id="n34-18"><use href="#dL" x="968"/></g></g>
<g transform="translate(0,1830)"><g id="n35-1"><use href="#dR" x="84"/></g><g id="n35-2"><use href="#dR" x="136"/></g><g id="n35-3"><use href="#dR" x="188"/></g><g id="n35-4"><use href="#dR" x="240"/></g><g id="n35-5"><use href="#dR" x="292"/></g><g id="n35-6"><use href="#dR" x="344"/></g><g id="n35-7"><use href="#wR" x="396"/></g><g id="n35-8"><use href="#wR" x="448"/></g><g id="n35-9"><use href="#dR" x="500"/></g><g id="n35-10"><use href="#dR" x="552"/></g><g id="n35-11"><use href="#dR" x="604"/></g><g id="n35-12"><use href="#dR" x="656"/></g><g id="n35-13"><use href="#wR" x="708"/></g><g id="n35-14"><use href="#wR" x="760"/></g><g id="n35-15"><use href="#wR" x="812"/></g><g id="n35-16"><use href="#dR" x="864"/></g><g id="n35-17"><use href="#dR" x="916"/></g><g id="n35-18"><use href="#dR" x="968"/></g></g>
<g transform="translate(0,1882)"><g id="n36-1"><use href="#dL" x="84"/></g><g id="n36-2"><use href="#dL" x="136"/></g><g id="n36-3"><use href="#dL" x="188"/></g><g id="n36-4"><use href="#dL" x="240"/></g><g id="n36-5"><use href="#dL" x="292"/></g><g id="n36-6"><use href="#dL" x="344"/></g><g id="n36-7"><use href="#wL" x="396"/></g><g id="n36-8"><use href="#wL" x="448"/></g><g id="n36-9"><use href="#dL" x="500"/></g><g id="n36-10"><use href="#dL" x="552"/></g><g id="n36-11"><use href="#dL" x="604"/></g><g id="n36-12"><use href="#wL" x="656"/></g><g id="n36-13"><use href="#wL" x="708"/></g><g id="n36-14"><use href="#wL" x="760"/></g><g id="n36-15"><use href="#wL" x="812"/></g><g id="n36-16"><use href="#dL" x="864"/></g><g id="n36-17"><use href="#dL" x="916"/></g><g id="n36-18"><use href="#dL" x="968"/></g></g>
<g transform="translate(0,1934)"><g id="n37-1"><use href="#dR" x="84"/></g><g id="n37-2"><use href="#dR" x="136"/></g><g id="n37-3"><use href="#dR" x="188"/></g><g id="n37-4"><use href="#dR" x="240"/></g><g id="n37-5"><use href="#dR" x="292"/></g><g id="n37-6"><use href="#dR" x="344"/></g><g id="n37-7"><use href="#wR" x="396"/></g><g id="n37-8"><use href="#wR" x="448"/></g><g id="n37-9"><use href="#dR" x="500"/></g><g id="n37-10"><use href="#dR" x="552"/></g><g id="n37-11"><use href="#wR" x="604"/></g><g id="n37-12"><use href="#wR" x="656"/></g><g id="n37-13"><use href="#wR" x="708"/></g><g id="n37-14"><use href="#wR" x="760"/></g><g id="n37-15"><use href="#wR" x="812"/></g><g id="n37-16"><use href="#dR" x="864"/></g><g id="n37-17"><use href="#dR" x="916"/></g><g id="n37-18"><use href="#dR" x="968"/></g></g>
<g transform="translate(0,1986)"><g id="n38-1"><use href="#dL" x="84"/></g><g id="n38-2"><use href="#dL" x="136"/></g><g id="n38-3"><use href="#dL" x="188"/></g><g id="n38-4"><use href="#dL" x="240"/></g><g id="n38-5"><use href="#dL" x="292"/></g><g id="n38-6"><use href="#dL" x="344"/></g><g id="n38-7"><use href="#wL" x="396"/></g><g id="n38-8"><use href="#wL" x="448"/></g><g id="n38-9"><use href="#dL" x="500"/></g><g id="n38-10"><use href="#wL" x="552"/></g><g id="n38-11"><use href="#wL" x="604"/></g><g id="n38-12"><use href="#wL" x="656"/></g><g id="n38-13"><use href="#wL" x="708"/></g><g id="n38-14"><use href="#wL" x="760"/></g><g id="n38-15"><use href="#wL" x="812"/></g><g id="n38-16"><use href="#dL" x="864"/></g><g id="n38-17"><use href="#dL" x="916"/></g><g id="n38-18"><use href="#dL" x="968"/></g></g>
<g transform="translate(0,2038)"><g id="n39-1"><use href="#dR" x="84"/></g><g id="n39-2"><use href="#dR" x="136"/></g><g id="n39-3"><use href="#dR" x="188"/></g><g id="n39-4"><use href="#dR" x="240"/></g><g id="n39-5"><use href="#dR" x="292"/></g><g id="n39-6"><use href="#dR" x="344"/></g><g id="n39-7"><use href="#wR" x="396"/></g><g id="n39-8"><use href="#wR" x="448"/></g><g id="n39-9"><use href="#wR" x="500"/></g><g id="n39-10"><use href="#wR" x="552"/></g><g id="n39-11"><use href="#wR" x="604"/></g><g id="n39-12"><use href="#wR" x="656"/></g><g id="n39-13"><use href="#dR" x="708"/></g><g id="n39-14"><use href="#wR" x="760"/></g><g id="n39-15"><use href="#wR" x="812"/></g><g id="n39-16"><use href="#dR" x="864"/></g><g id="n39-17"><use href="#dR" x="916"/></g><g id="n39-18"><use href="#dR" x="968"/></g></g>
<g transform="translate(0,2090)"><g id="n40-1"><use href="#dL" x="84"/></g><g id="n40-2"><use href="#dL" x="136"/></g><g id="n40-3"><use href="#dL" x="188"/></g><g id="n40-4"><use href="#dL" x="240"/></g><g id="n40-5"><use href="#dL" x="292"/></g><g id="n40-6"><use href="#dL" x="344"/></g><g id="n40-7"><use href="#wL" x="396"/></g><g id="n40-8"><use href="#wL" x="448"/></g><g id="n40-9"><use href="#wL" x="500"/></g><g id="n40-10"><use href="#wL" x="552"/></g><g id="n40-11"><use href="#wL" x="604"/></g><g id="n40-12"><use href="#dL" x="656"/></g><g id="n40-13"><use href="#dL" x="708"/></g><g id="n40-14"><use href="#wL" x="760"/></g><g id="n40-15"><use href="#wL" x="812"/></g><g id="n40-16"><use href="#dL" x="864"/></g><g id="n40-17"><use href="#dL" x="916"/></g><g id="n40-18"><use href="#dL" x="968"/></g></g>
<g transform="translate(0,2142)"><g id="n41-1"><use href="#dR" x="84"/></g><g id="n41-2"><use href="#dR" x="136"/></g><g id="n41-3"><use href="#dR" x="188"/></g><g id="n41-4"><use href="#dR" x="240"/></g><g id="n41-5"><use href="#dR" x="292"/></g><g id="n41-6"><use href="#dR" x="344"/></g><g id="n41-7"><use href="#wR" x="396"/></g><g id="n41-8"><use href="#wR" x="448"/></g><g id="n41-9"><use href="#wR" x="500"/></g><g id="n41-10"><use href="#wR" x="552"/></g><g id="n41-11"><use href="#dR" x="604"/></g><g id="n41-12"><use href="#dR" x="656"/></g><g id="n41-13"><use href="#dR" x="708"/></g><g id="n41-14"><use href="#wR" x="760"/></g><g id="n41-15"><use href="#wR" x="812"/></g><g id="n41-16"><use href="#dR" x="864"/></g><g id="n41-17"><use href="#dR" x="916"/></g><g id="n41-18"><use href="#dR" x="968"/></g></g>
<g transform="translate(0,2194)"><g id="n42-1"><use href="#dL" x="84"/></g><g id="n42-2"><use href="#dL" x="136"/></g><g id="n42-3"><use href="#dL" x="188"/></g><g id="n42-4"><use href="#dL" x="240"/></g><g id="n42-5"><use href="#dL" x="292"/></g><g id="n42-6"><use href="#dL" x="344"/></g><g id="n42-7"><use href="#wL" x="396"/></g><g id="n42-8"><use href="#wL" x="448"/></g><g id="n42-9"><use href="#wL" x="500"/></g><g id="n42-10"><use href="#dL" x="552"/></g><g id="n42-11"><use href="#dL" x="604"/></g><g id="n42-12"><use href="#dL" x="656"/></g><g id="n42-13"><use href="#dL" x="708"/></g><g id="n42-14"><use href="#wL" x="760"/></g><g id="n42-15"><use href="#wL" x="812"/></g><g id="n42-16"><use href="#dL" x="864"/></g><g id="n42-17"><use href="#dL" x="916"/></g><g id="n42-18"><use href="#dL" x="968"/></g></g>
<g transform="translate(0,2246)"><g id="n43-1"><use href="#dR" x="84"/></g><g id="n43-2"><use href="#dR" x="136"/></g><g id="n43-3"><use href="#dR" x="188"/></g><g id="n43-4"><use href="#dR" x="240"/></g><g id="n43-5"><use href="#dR" x="292"/></g><g id="n43-6"><use href="#dR" x="344"/></g><g id="n43-7"><use href="#wR" x="396"/></g><g id="n43-8"><use href="#wR" x="448"/></g><g id="n43-9"><use href="#dR" x="500"/></g><g id="n43-10"><use href="#dR" x="552"/></g><g id="n43-11"><use href="#dR" x="604"/></g><g id="n43-12"><use href="#dR" x="656"/></g><g id="n43-13"><use href="#dR" x="708"/></g><g id="n43-14"><use href="#wR" x="760"/></g><g id="n43-15"><use href="#wR" x="812"/></g><g id="n43-16"><use href="#dR" x="864"/></g><g id="n43-17"><use href="#dR" x="916"/></g><g id="n43-18"><use href="#dR" x="968"/></g></g>
<g transform="translate(0,2298)"><g id="n44-1"><use href="#dL" x="84"/></g><g id="n44-2"><use href="#dL" x="136"/></g><g id="n44-3"><use href="#dL" x="188"/></g><g id="n44-4"><use href="#dL" x="240"/></g><g id="n44-5"><use href="#dL" x="292"/></g><g id="n44-6"><use href="#dL" x="344"/></g><g id="n44-7"><use href="#wL" x="396"/></g><g id="n44-8"><use href="#dL" x="448"/></g><g id="n44-9"><use href="#dL" x="500"/></g><g id="n44-10"><use href="#dL" x="552"/></g><g id="n44-11"><use href="#dL" x="604"/></g><g id="n44-12"><use href="#dL" x="656"/></g><g id="n44-13"><use href="#dL" x="708"/></g><g id="n44-14"><use href="#dL" x="760"/></g><g id="n44-15"><use href="#dL" x="812"/></g><g id="n44-16"><use href="#dL" x="864"/></g><g id="n44-17"><use href="#dL" x="916"/></g><g id="n44-18"><use href="#dL" x="968"/></g></g>
<g transform="translate(0,2350)"><g id="n45-1"><use href="#dR" x="84"/></g><g id="n45-2"><use href="#dR" x="136"/></g><g id="n45-3"><use href="#dR" x="188"/></g><g id="n45-4"><use href="#dR" x="240"/></g><g id="n45-5"><use href="#dR" x="292"/></g><g id="n45-6"><use href="#dR" x="344"/></g><g id="n45-7"><use href="#dR" x="396"/></g><g id="n45-8"><use href="#dR" x="448"/></g><g id="n45-9"><use href="#dR" x="500"/></g><g id="n45-10"><use href="#dR" x="552"/></g><g id="n45-11"><use href="#dR" x="604"/></g><g id="n45-12"><use href="#dR" x="656"/></g><g id="n45-13"><use href="#dR" x="708"/></g><g id="n45-14"><use href="#dR" x="760"/></g><g id="n45-15"><use href="#dR" x="812"/></g><g id="n45-16"><use href="#dR" x="864"/></g><g id="n45-17"><use href="#dR" x="916"/></g><g id="n45-18"><use href="#dR" x="968"/></g></g>
<g transform="translate(0,2402)"><g id="n46-1"><use href="#dL" x="84"/></g><g id="n46-2"><use href="#dL" x="136"/></g><g id="n46-3"><use href="#dL" x="188"/></g><g id="n46-4"><use href="#dL" x="240"/></g><g id="n46-5"><use href="#dL" x="292"/></g><g id="n46-6"><use href="#dL" x="344"/></g><g id="n46-7"><use href="#dL" x="396"/></g><g id="n46-8"><use href="#dL" x="448"/></g><g id="n46-9"><use href="#dL" x="500"/></g><g id="n46-10"><use href="#dL" x="552"/></g><g id="n46-11"><use href="#dL" x="604"/></g><g id="n46-12"><use href="#dL" x="656"/></g><g id="n46-13"><use href="#dL" x="708"/></g><g id="n46-14"><use href="#dL" x="760"/></g><g id="n46-15"><use href="#dL" x="812"/></g><g id="n46-16"><use href="#dL" x="864"/></g><g id="n46-17"><use href="#dL" x="916"/></g><g id="n46-18"><use href="#dL" x="968"/></g></g>
<g transform="translate(0,2454)"><g id="n47-1"><use href="#dR" x="84"/></g><g id="n47-2"><use href="#dR" x="136"/></g><g id="n47-3"><use href="#dR" x="188"/></g><g id="n47-4"><use href="#dR" x="240"/></g><g id="n47-5"><use href="#dR" x="292"/></g><g id="n47-6"><use href="#dR" x="344"/></g><g id="n47-7"><use href="#dR" x="396"/></g><g id="n47-8"><use href="#dR" x="448"/></g><g id="n47-9"><use href="#dR" x="500"/></g><g id="n47-10"><use href="#dR" x="552"/></g><g id="n47-11"><use href="#dR" x="604"/></g><g id="n47-12"><use href="#dR" x="656"/></g><g id="n47-13"><use href="#dR" x="708"/></g><g id="n47-14"><use href="#dR" x="760"/></g><g id="n47-15"><use href="#dR" x="812"/></g><g id="n47-16"><use href="#dR" x="864"/></g><g id="n47-17"><use href="#dR" x="916"/></g><g id="n47-18"><use href="#dR" x="968"/></g></g>
</g>
<text id="watermark" class="wm" x="526" y="1290" text-anchor="middle" textLength="155" lengthAdjust="spacingAndGlyphs">BRACELETBOOK.COM</text>
</svg>
